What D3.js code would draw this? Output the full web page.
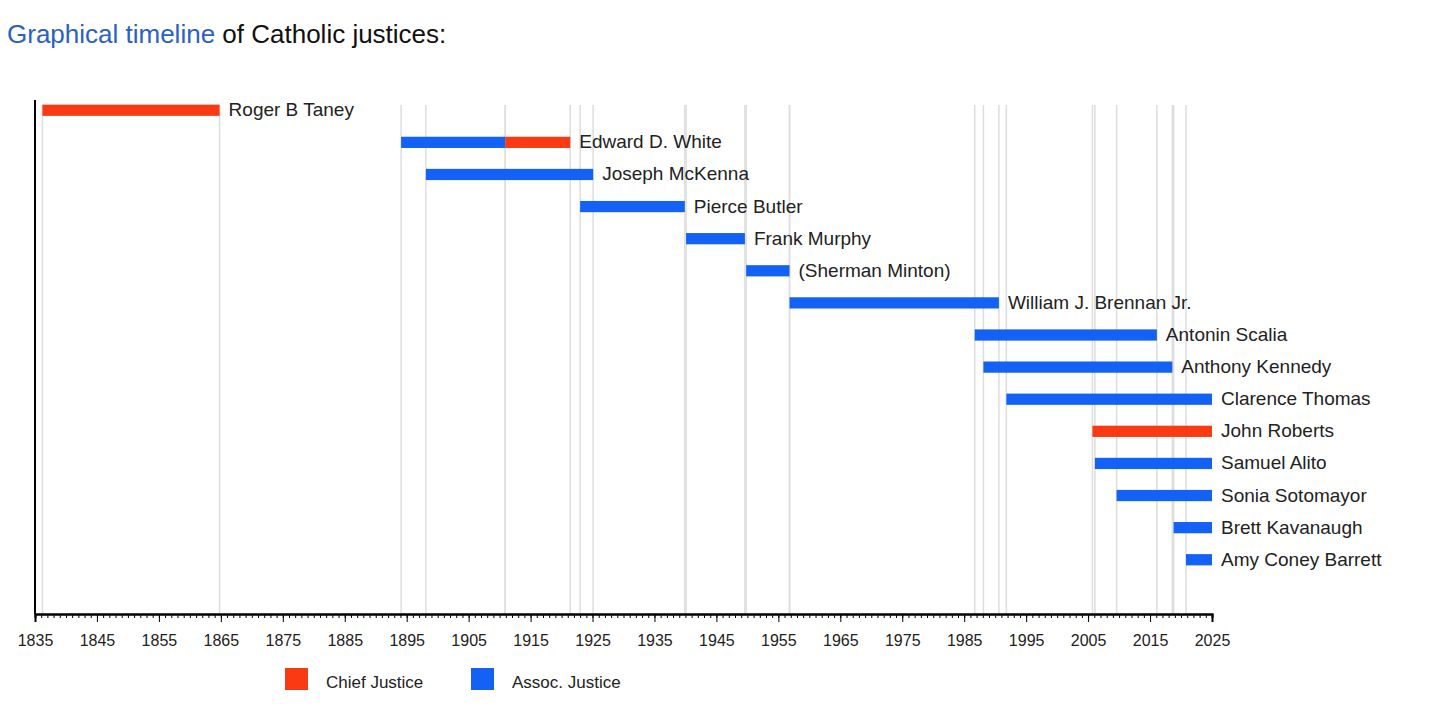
<!DOCTYPE html>
<html><head><meta charset="utf-8">
<script src="https://cdn.jsdelivr.net/npm/d3@7"></script>
<style>body{margin:0;background:#fff;font-family:"Liberation Sans",Arial,sans-serif}</style>
</head><body>
<svg id="chart" width="1456" height="710"></svg>
<script>
var names = ["Roger B Taney","Edward D. White","Joseph McKenna","Pierce Butler","Frank Murphy","(Sherman Minton)","William J. Brennan Jr.","Antonin Scalia","Anthony Kennedy","Clarence Thomas","John Roberts","Samuel Alito","Sonia Sotomayor","Brett Kavanaugh","Amy Coney Barrett"];
// terms: [row, start, end, role]
var terms = [
  [0,1836.2,1864.8,"chief"],
  [1,1894.1,1910.9,"assoc"],[1,1910.9,1921.4,"chief"],
  [2,1898.1,1925.1,"assoc"],
  [3,1923.0,1939.9,"assoc"],
  [4,1940.1,1949.6,"assoc"],
  [5,1949.8,1956.8,"assoc"],
  [6,1956.8,1990.6,"assoc"],
  [7,1986.7,2016.1,"assoc"],
  [8,1988.1,2018.6,"assoc"],
  [9,1991.8,2025,"assoc"],
  [10,2005.7,2025,"chief"],
  [11,2006.1,2025,"assoc"],
  [12,2009.6,2025,"assoc"],
  [13,2018.8,2025,"assoc"],
  [14,2020.8,2025,"assoc"]
];
var majorTicks = d3.range(1835, 2026, 10);
var colors = {chief:"#f93a12", assoc:"#1462f5"};

var svg = d3.select("#chart");
svg.append("text").attr("x",7).attr("y",43).attr("font-size",26)
  .call(function(t){
    t.append("tspan").attr("fill","#2b60c6").text("Graphical timeline");
    t.append("tspan").attr("fill","#111").text(" of Catholic justices:");
  });

var x = d3.scaleLinear().domain([1835,2025]).range([35,1212]);
var y = d3.scaleBand().domain(d3.range(names.length)).range([95,575]).paddingInner(0.65).paddingOuter(0.3);
var axisY = 614;

// gridlines at term boundaries
var edges = [];
terms.forEach(function(t){ edges.push(t[1]); if (t[2] < 2025) edges.push(t[2]); });
svg.selectAll(".grid").data(edges).enter().append("line")
  .attr("x1",function(d){return x(d);}).attr("x2",function(d){return x(d);})
  .attr("y1",105).attr("y2",axisY).attr("stroke","#ddd").attr("stroke-width",1.5);

svg.selectAll(".bar").data(terms).enter().append("rect")
  .attr("x",function(d){return x(d[1]);})
  .attr("width",function(d){return x(d[2])-x(d[1]);})
  .attr("y",function(d){return y(d[0]);})
  .attr("height",y.bandwidth())
  .attr("fill",function(d){return colors[d[3]];});

svg.selectAll(".lbl").data(names).enter().append("text")
  .attr("x",function(d,i){
    var end = d3.max(terms.filter(function(t){return t[0]===i;}), function(t){return t[2];});
    return x(end)+9;
  })
  .attr("y",function(d,i){return y(i)+y.bandwidth()/2+6;})
  .attr("font-size",19).attr("fill","#222").text(function(d){return d;});

// axes
svg.append("line").attr("x1",35).attr("x2",35).attr("y1",100).attr("y2",axisY).attr("stroke","#000").attr("stroke-width",2);
var minor = d3.axisBottom(x).tickValues(d3.range(1835,2026,1)).tickSize(4).tickFormat("");
var major = d3.axisBottom(x).tickValues(majorTicks).tickSize(8).tickFormat(d3.format("d"));
var gm = svg.append("g").attr("transform","translate(0,"+axisY+")").call(minor);
var gM = svg.append("g").attr("transform","translate(0,"+axisY+")").call(major);
[gm,gM].forEach(function(g){
  g.select(".domain").attr("stroke-width",2);
  g.selectAll(".tick line").attr("stroke","#000");
});
gM.selectAll("text").attr("font-size",16).attr("dy","1.3em").attr("fill","#222")
  .attr("font-family","Liberation Sans Narrow, Liberation Sans, Arial").attr("textLength",null);

// legend
var legend = [["Chief Justice","chief",285],["Assoc. Justice","assoc",471]];
var lg = svg.selectAll(".lg").data(legend).enter().append("g");
lg.append("rect").attr("x",function(d){return d[2];}).attr("y",668).attr("width",23).attr("height",22)
  .attr("fill",function(d){return colors[d[1]];});
lg.append("text").attr("x",function(d){return d[2]+41;}).attr("y",688).attr("font-size",17).attr("fill","#222")
  .attr("font-family","Liberation Sans Narrow, Liberation Sans, Arial").text(function(d){return d[0];});
</script>
</body></html>
